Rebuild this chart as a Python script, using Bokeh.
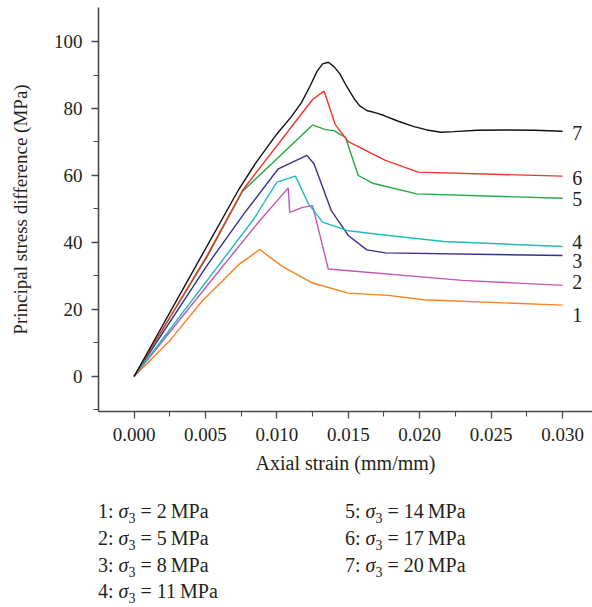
from bokeh.plotting import figure
from bokeh.models import Range1d, NumeralTickFormatter, FixedTicker, Div, Label
from bokeh.layouts import column
from bokeh.embed import file_html
from bokeh.resources import INLINE

# ---- data ----
x1 = [0, 0.0025, 0.0048, 0.0073, 0.0088, 0.0104, 0.0125, 0.0150, 0.0178, 0.0203, 0.0300]
y1 = [0, 10.7, 22.7, 33.3, 37.9, 32.8, 27.9, 24.9, 24.2, 22.9, 21.3]

x2 = [0, 0.0050, 0.0086, 0.0108, 0.0109, 0.0118, 0.0125, 0.0136, 0.0230, 0.0300]
y2 = [0, 26.5, 45.5, 56.3, 49.0, 50.5, 51.0, 32.1, 28.7, 27.2]

x3 = [0, 0.0051, 0.0077, 0.0101, 0.0121, 0.0126, 0.0138, 0.0150, 0.0163, 0.0176, 0.0300]
y3 = [0, 33.1, 48.6, 62.0, 66.0, 63.5, 49.6, 42.1, 37.8, 36.9, 36.1]

x4 = [0, 0.0084, 0.0100, 0.0113, 0.0122, 0.0132, 0.0149, 0.0172, 0.0217, 0.0300]
y4 = [0, 47.1, 58.0, 59.8, 51.6, 46.1, 43.6, 42.4, 40.3, 38.8]

x5 = [0, 0.0051, 0.0076, 0.0125, 0.0134, 0.0140, 0.0148, 0.0157, 0.0167, 0.0198, 0.0300]
y5 = [0, 35.6, 55.3, 75.1, 73.7, 73.4, 71.4, 60.0, 57.7, 54.5, 53.2]

x6 = [0, 0.0051, 0.0076, 0.0125, 0.0133, 0.0141, 0.0150, 0.0176, 0.0199, 0.0300]
y6 = [0, 36.0, 55.6, 82.7, 85.2, 75.1, 70.1, 64.5, 61.0, 59.8]

x7 = [0, 0.0040, 0.0073, 0.0085, 0.0100, 0.0110, 0.0117, 0.0123, 0.0128,
      0.0132, 0.0136, 0.0140, 0.0144, 0.0149, 0.0154, 0.0158, 0.0163, 0.0170, 0.0175,
      0.0185, 0.0196, 0.0205, 0.0215, 0.0224, 0.0240, 0.0260, 0.0280, 0.0300]
y7 = [0, 30.5, 55.6, 63.6, 72.4, 77.5, 81.6, 86.5, 91.0,
      93.3, 93.8, 92.5, 90.4, 86.5, 83.0, 80.8, 79.4, 78.6, 77.9,
      76.2, 74.6, 73.6, 72.9, 73.1, 73.5, 73.6, 73.5, 73.2]

curve_names = ["1", "2", "3", "4", "5", "6", "7"]
sigma3 = [2, 5, 8, 11, 14, 17, 20]
colors = ["#F7821E", "#C456B2", "#35318F", "#1DBCBC", "#23A845", "#F2342A", "#111111"]
label_y = [18.4, 28.1, 34.6, 40.0, 53.0, 59.3, 72.7]
label_x = 0.03068

xs = [x1, x2, x3, x4, x5, x6, x7]
ys = [y1, y2, y3, y4, y5, y6, y7]

FONT = "Liberation Serif"
AX = "#4a4a4a"
TXT = "#231f20"

p = figure(width=592, height=480, output_backend="svg", toolbar_location=None,
           x_range=Range1d(-0.00249, 0.0321), y_range=Range1d(-10.45, 110.15),
           min_border_left=98, min_border_right=0, min_border_top=7, min_border_bottom=69,
           background_fill_color="white", border_fill_color="white")
p.outline_line_color = None
p.grid.visible = False

for xv, yv, c in zip(xs, ys, colors):
    p.line(xv, yv, line_color=c, line_width=1.4)

for name, ly in zip(curve_names, label_y):
    p.add_layout(Label(x=label_x, y=ly, text=name, text_font=FONT, text_font_size="20px",
                       text_color=TXT, text_baseline="middle", text_align="left"))

p.xaxis.ticker = FixedTicker(ticks=[0, 0.005, 0.01, 0.015, 0.02, 0.025, 0.03],
                             minor_ticks=[0.0025, 0.0075, 0.0125, 0.0175, 0.0225, 0.0275])
p.xaxis.formatter = NumeralTickFormatter(format="0.000")
p.yaxis.ticker = FixedTicker(ticks=[0, 20, 40, 60, 80, 100],
                             minor_ticks=[-10, 10, 30, 50, 70, 90])

p.xaxis.axis_label = "Axial strain (mm/mm)"
p.yaxis.axis_label = "Principal stress difference (MPa)"

for ax in (p.xaxis, p.yaxis):
    ax.axis_line_color = AX
    ax.axis_line_width = 1.6
    ax.major_tick_line_color = AX
    ax.minor_tick_line_color = AX
    ax.major_tick_line_width = 1.3
    ax.minor_tick_line_width = 1.1
    ax.major_tick_out = 7
    ax.major_tick_in = 0
    ax.minor_tick_out = 5
    ax.minor_tick_in = 0
    ax.major_label_text_font = FONT
    ax.major_label_text_font_size = "19px"
    ax.major_label_text_color = TXT
    ax.axis_label_text_font = FONT
    ax.axis_label_text_font_style = "normal"
    ax.axis_label_text_color = TXT

p.xaxis.axis_label_text_font_size = "20px"
p.yaxis.axis_label_text_font_size = "19px"
p.xaxis.major_label_standoff = 9
p.xaxis.axis_label_standoff = 8
p.yaxis.major_label_standoff = 9
p.yaxis.axis_label_standoff = 20

left = [0, 1, 2, 3]
right = [4, 5, 6]
cell = "{n}: <i>&sigma;</i><sub style='font-size:70%'>3</sub> = {s}&thinsp;MPa"
html_rows = ""
for i in range(4):
    l = cell.format(n=curve_names[left[i]], s=sigma3[left[i]])
    r = cell.format(n=curve_names[right[i]], s=sigma3[right[i]]) if i < len(right) else ""
    html_rows += (f"<div style='height:26.8px;line-height:26.8px'>{l}</div>"
                  f"<div style='height:26.8px;line-height:26.8px'>{r}</div>")

legend = Div(text=f"<div style=\"display:grid;grid-template-columns:247px 240px;"
                  f"font-family:'{FONT}';font-size:20px;color:{TXT};padding-left:98px;padding-top:18px\">"
                  f"{html_rows}</div>",
             width=592, height=125, margin=(0, 0, 0, 0))

layout = column(p, legend, spacing=0)

open("out.html", "w").write(file_html(layout, INLINE))
